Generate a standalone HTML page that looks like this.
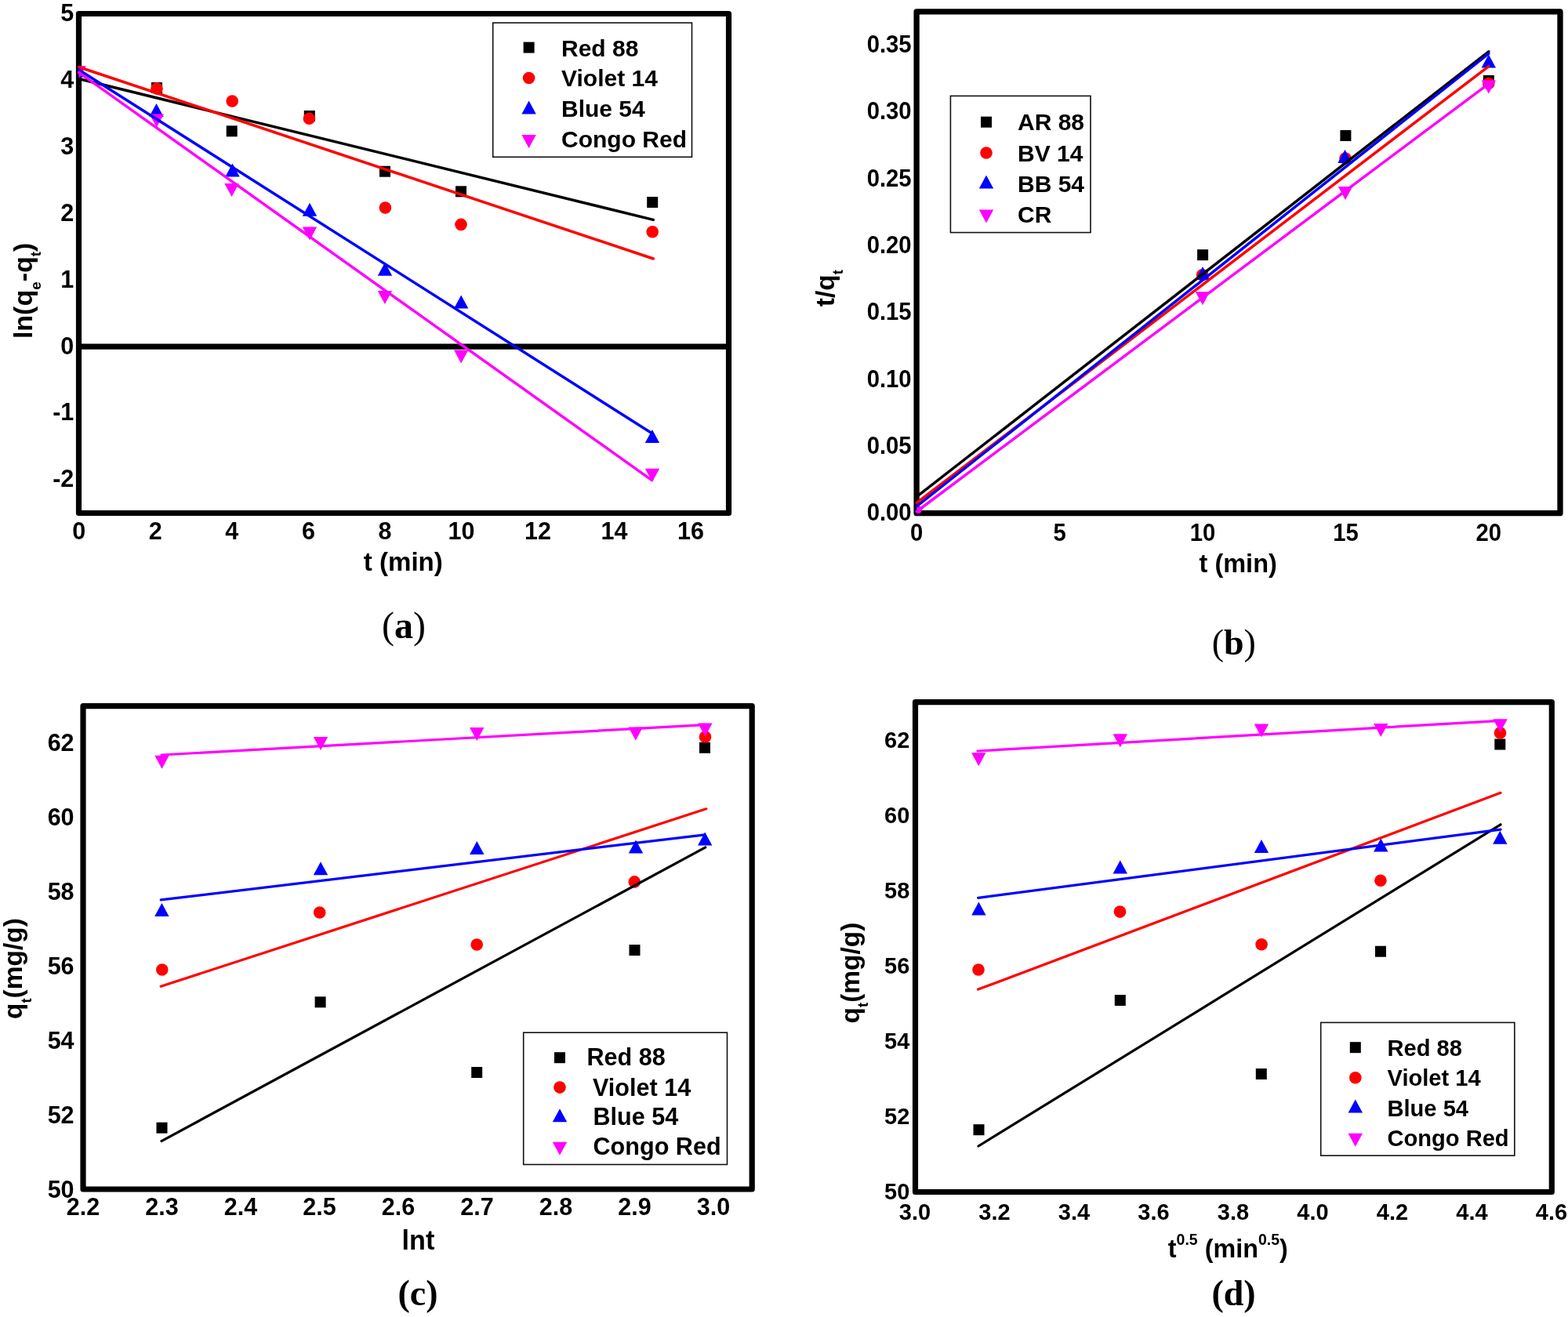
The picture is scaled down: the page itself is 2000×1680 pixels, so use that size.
<!DOCTYPE html>
<html><head><meta charset="utf-8"><title>Kinetic model plots</title>
<style>html,body{margin:0;padding:0;background:#fff;}body{width:2000px;height:1680px;overflow:hidden;}svg{display:block;}</style>
</head><body>
<svg width="2000" height="1680" viewBox="0 0 2000 1680">
<rect x="0" y="0" width="2000" height="1680" fill="#fff"/>
<clipPath id="ca"><rect x="100.5" y="17.5" width="829.0" height="637.0"/></clipPath>
<rect x="100.5" y="17.5" width="829" height="637" fill="none" stroke="#000" stroke-width="7.2" stroke-linejoin="round"/>
<line x1="100.5" y1="442.2" x2="929.5" y2="442.2" stroke="#000" stroke-width="7.2" stroke-linecap="butt"/>
<text x="94.3" y="26.85" font-family="'Liberation Sans', Arial, sans-serif" font-weight="bold" font-size="30.5" text-anchor="end">5</text>
<text x="94.3" y="111.78" font-family="'Liberation Sans', Arial, sans-serif" font-weight="bold" font-size="30.5" text-anchor="end">4</text>
<text x="94.3" y="196.71" font-family="'Liberation Sans', Arial, sans-serif" font-weight="bold" font-size="30.5" text-anchor="end">3</text>
<text x="94.3" y="281.64" font-family="'Liberation Sans', Arial, sans-serif" font-weight="bold" font-size="30.5" text-anchor="end">2</text>
<text x="94.3" y="366.57" font-family="'Liberation Sans', Arial, sans-serif" font-weight="bold" font-size="30.5" text-anchor="end">1</text>
<text x="94.3" y="451.5" font-family="'Liberation Sans', Arial, sans-serif" font-weight="bold" font-size="30.5" text-anchor="end">0</text>
<text x="94.3" y="536.43" font-family="'Liberation Sans', Arial, sans-serif" font-weight="bold" font-size="30.5" text-anchor="end">-1</text>
<text x="94.3" y="621.36" font-family="'Liberation Sans', Arial, sans-serif" font-weight="bold" font-size="30.5" text-anchor="end">-2</text>
<text x="100.8" y="687.6" font-family="'Liberation Sans', Arial, sans-serif" font-weight="bold" font-size="30.5" text-anchor="middle">0</text>
<text x="198.32" y="687.6" font-family="'Liberation Sans', Arial, sans-serif" font-weight="bold" font-size="30.5" text-anchor="middle">2</text>
<text x="295.84" y="687.6" font-family="'Liberation Sans', Arial, sans-serif" font-weight="bold" font-size="30.5" text-anchor="middle">4</text>
<text x="393.36" y="687.6" font-family="'Liberation Sans', Arial, sans-serif" font-weight="bold" font-size="30.5" text-anchor="middle">6</text>
<text x="490.88" y="687.6" font-family="'Liberation Sans', Arial, sans-serif" font-weight="bold" font-size="30.5" text-anchor="middle">8</text>
<text x="588.4" y="687.6" font-family="'Liberation Sans', Arial, sans-serif" font-weight="bold" font-size="30.5" text-anchor="middle">10</text>
<text x="685.92" y="687.6" font-family="'Liberation Sans', Arial, sans-serif" font-weight="bold" font-size="30.5" text-anchor="middle">12</text>
<text x="783.44" y="687.6" font-family="'Liberation Sans', Arial, sans-serif" font-weight="bold" font-size="30.5" text-anchor="middle">14</text>
<text x="880.96" y="687.6" font-family="'Liberation Sans', Arial, sans-serif" font-weight="bold" font-size="30.5" text-anchor="middle">16</text>
<text x="514.3" y="728" font-family="'Liberation Sans', Arial, sans-serif" font-weight="bold" font-size="33.1" text-anchor="middle">t (min)</text>
<text x="515" y="814" font-family="'Liberation Serif', 'Times New Roman', serif" font-weight="bold" font-size="48" text-anchor="middle"><tspan font-weight="normal">(</tspan>a<tspan font-weight="normal">)</tspan></text>
<text transform="translate(40.7,370.9) rotate(-90)" x="0" y="0" font-family="'Liberation Sans', Arial, sans-serif" font-weight="bold" font-size="34" text-anchor="middle"><tspan>ln(q</tspan><tspan font-size="18.8" dy="11.5">e</tspan><tspan dy="-11.5">-q</tspan><tspan font-size="18.8" dy="11.5">t</tspan><tspan dy="-11.5">)</tspan></text>
<rect x="628.7" y="29.1" width="253.8" height="171.2" fill="#fff" stroke="#111" stroke-width="1.6"/>
<rect x="667.6" y="53.6" width="14" height="14" fill="#000000"/>
<text x="716" y="71.5" font-family="'Liberation Sans', Arial, sans-serif" font-weight="bold" font-size="30" text-anchor="start">Red 88</text>
<circle cx="674.6" cy="99.5" r="7.8" fill="#ff0000"/>
<text x="716" y="110.3" font-family="'Liberation Sans', Arial, sans-serif" font-weight="bold" font-size="30" text-anchor="start">Violet 14</text>
<polygon points="674.6,128.5 683.8,145.5 665.4,145.5" fill="#0000ff"/>
<text x="716" y="149.1" font-family="'Liberation Sans', Arial, sans-serif" font-weight="bold" font-size="30" text-anchor="start">Blue 54</text>
<polygon points="665.4,172.1 683.8,172.1 674.6,189.1" fill="#ff00ff"/>
<text x="716" y="188" font-family="'Liberation Sans', Arial, sans-serif" font-weight="bold" font-size="30" text-anchor="start">Congo Red</text>
<g clip-path="url(#ca)">
<rect x="193" y="105" width="14" height="14" fill="#000000"/>
<rect x="288.7" y="160.3" width="14" height="14" fill="#000000"/>
<rect x="387.8" y="141" width="14" height="14" fill="#000000"/>
<rect x="484" y="211.7" width="14" height="14" fill="#000000"/>
<rect x="581" y="237.3" width="14" height="14" fill="#000000"/>
<rect x="825.2" y="251" width="14" height="14" fill="#000000"/>
<circle cx="200" cy="113" r="7.8" fill="#ff0000"/>
<circle cx="296.2" cy="129" r="7.8" fill="#ff0000"/>
<circle cx="394.4" cy="151.2" r="7.8" fill="#ff0000"/>
<circle cx="491.4" cy="265" r="7.8" fill="#ff0000"/>
<circle cx="588" cy="286.4" r="7.8" fill="#ff0000"/>
<circle cx="832.2" cy="295.7" r="7.8" fill="#ff0000"/>
<polygon points="100.5,81.5 109.7,98.5 91.3,98.5" fill="#0000ff"/>
<polygon points="199.5,132 208.7,149 190.3,149" fill="#0000ff"/>
<polygon points="296.5,208.5 305.7,225.5 287.3,225.5" fill="#0000ff"/>
<polygon points="395,258.8 404.2,275.8 385.8,275.8" fill="#0000ff"/>
<polygon points="491,334.8 500.2,351.8 481.8,351.8" fill="#0000ff"/>
<polygon points="588.2,376.5 597.4,393.5 579,393.5" fill="#0000ff"/>
<polygon points="832,548.1 841.2,565.1 822.8,565.1" fill="#0000ff"/>
<polygon points="91.3,84 109.7,84 100.5,101" fill="#ff00ff"/>
<polygon points="190.6,145.5 209,145.5 199.8,162.5" fill="#ff00ff"/>
<polygon points="286.3,234 304.7,234 295.5,251" fill="#ff00ff"/>
<polygon points="385.8,289.5 404.2,289.5 395,306.5" fill="#ff00ff"/>
<polygon points="481.7,371 500.1,371 490.9,388" fill="#ff00ff"/>
<polygon points="579,446.5 597.4,446.5 588.2,463.5" fill="#ff00ff"/>
<polygon points="822.8,597.7 841.2,597.7 832,614.7" fill="#ff00ff"/>
</g>
<line x1="100.5" y1="100.5" x2="833.3" y2="280.4" stroke="#000000" stroke-width="3.5" stroke-linecap="round"/>
<line x1="100.5" y1="85.5" x2="833.3" y2="330" stroke="#ff0000" stroke-width="3.5" stroke-linecap="round"/>
<line x1="100.5" y1="89" x2="832" y2="553" stroke="#0000ff" stroke-width="3.5" stroke-linecap="round"/>
<line x1="100.5" y1="92.4" x2="831.5" y2="612.6" stroke="#ff00ff" stroke-width="3.5" stroke-linecap="round"/>
<clipPath id="cb"><rect x="1169.1" y="14.9" width="820.9000000000001" height="639.8000000000001"/></clipPath>
<rect x="1169.1" y="14.9" width="820.9" height="639.8" fill="none" stroke="#000" stroke-width="7.3" stroke-linejoin="round"/>
<text transform="translate(1162.6,664.3) scale(0.96,1)" x="0" y="0" font-family="'Liberation Sans', Arial, sans-serif" font-weight="bold" font-size="30.5" text-anchor="end">0.00</text>
<text transform="translate(1162.6,578.98) scale(0.96,1)" x="0" y="0" font-family="'Liberation Sans', Arial, sans-serif" font-weight="bold" font-size="30.5" text-anchor="end">0.05</text>
<text transform="translate(1162.6,493.67) scale(0.96,1)" x="0" y="0" font-family="'Liberation Sans', Arial, sans-serif" font-weight="bold" font-size="30.5" text-anchor="end">0.10</text>
<text transform="translate(1162.6,408.35) scale(0.96,1)" x="0" y="0" font-family="'Liberation Sans', Arial, sans-serif" font-weight="bold" font-size="30.5" text-anchor="end">0.15</text>
<text transform="translate(1162.6,323.04) scale(0.96,1)" x="0" y="0" font-family="'Liberation Sans', Arial, sans-serif" font-weight="bold" font-size="30.5" text-anchor="end">0.20</text>
<text transform="translate(1162.6,237.73) scale(0.96,1)" x="0" y="0" font-family="'Liberation Sans', Arial, sans-serif" font-weight="bold" font-size="30.5" text-anchor="end">0.25</text>
<text transform="translate(1162.6,152.41) scale(0.96,1)" x="0" y="0" font-family="'Liberation Sans', Arial, sans-serif" font-weight="bold" font-size="30.5" text-anchor="end">0.30</text>
<text transform="translate(1162.6,67.09) scale(0.96,1)" x="0" y="0" font-family="'Liberation Sans', Arial, sans-serif" font-weight="bold" font-size="30.5" text-anchor="end">0.35</text>
<text transform="translate(1169.2,690.2) scale(0.96,1)" x="0" y="0" font-family="'Liberation Sans', Arial, sans-serif" font-weight="bold" font-size="30.5" text-anchor="middle">0</text>
<text transform="translate(1351.6,690.2) scale(0.96,1)" x="0" y="0" font-family="'Liberation Sans', Arial, sans-serif" font-weight="bold" font-size="30.5" text-anchor="middle">5</text>
<text transform="translate(1534,690.2) scale(0.96,1)" x="0" y="0" font-family="'Liberation Sans', Arial, sans-serif" font-weight="bold" font-size="30.5" text-anchor="middle">10</text>
<text transform="translate(1716.4,690.2) scale(0.96,1)" x="0" y="0" font-family="'Liberation Sans', Arial, sans-serif" font-weight="bold" font-size="30.5" text-anchor="middle">15</text>
<text transform="translate(1898.8,690.2) scale(0.96,1)" x="0" y="0" font-family="'Liberation Sans', Arial, sans-serif" font-weight="bold" font-size="30.5" text-anchor="middle">20</text>
<text x="1579.2" y="730.2" font-family="'Liberation Sans', Arial, sans-serif" font-weight="bold" font-size="32.5" text-anchor="middle">t (min)</text>
<text x="1573.8" y="835.2" font-family="'Liberation Serif', 'Times New Roman', serif" font-weight="bold" font-size="46" text-anchor="middle"><tspan font-weight="normal">(</tspan>b<tspan font-weight="normal">)</tspan></text>
<text transform="translate(1063.6,367.7) rotate(-90)" x="0" y="0" font-family="'Liberation Sans', Arial, sans-serif" font-weight="bold" font-size="33.5" text-anchor="middle"><tspan>t/q</tspan><tspan font-size="18.5" dy="11.5">t</tspan></text>
<rect x="1212.4" y="122.4" width="178.6" height="174.2" fill="#fff" stroke="#111" stroke-width="1.6"/>
<rect x="1251" y="148.7" width="14" height="14" fill="#000000"/>
<text x="1298" y="166.4" font-family="'Liberation Sans', Arial, sans-serif" font-weight="bold" font-size="30" text-anchor="start">AR 88</text>
<circle cx="1258" cy="195" r="7.8" fill="#ff0000"/>
<text x="1298" y="205.6" font-family="'Liberation Sans', Arial, sans-serif" font-weight="bold" font-size="30" text-anchor="start">BV 14</text>
<polygon points="1258,223.5 1267.2,240.5 1248.8,240.5" fill="#0000ff"/>
<text x="1298" y="245" font-family="'Liberation Sans', Arial, sans-serif" font-weight="bold" font-size="30" text-anchor="start">BB 54</text>
<polygon points="1248.8,267.5 1267.2,267.5 1258,284.5" fill="#ff00ff"/>
<text x="1298" y="284" font-family="'Liberation Sans', Arial, sans-serif" font-weight="bold" font-size="30" text-anchor="start">CR</text>
<g clip-path="url(#cb)">
<rect x="1527.1" y="318.2" width="14" height="14" fill="#000000"/>
<rect x="1709.4" y="166" width="14" height="14" fill="#000000"/>
<rect x="1891.8" y="96" width="14" height="14" fill="#000000"/>
<circle cx="1533.7" cy="350.7" r="7.8" fill="#ff0000"/>
<circle cx="1716" cy="202.1" r="7.8" fill="#ff0000"/>
<circle cx="1898.8" cy="106.5" r="7.8" fill="#ff0000"/>
<polygon points="1169.2,646.2 1178.4,663.2 1160,663.2" fill="#0000ff"/>
<polygon points="1534,339.9 1543.2,356.9 1524.8,356.9" fill="#0000ff"/>
<polygon points="1715.5,191 1724.7,208 1706.3,208" fill="#0000ff"/>
<polygon points="1898.8,69.5 1908,86.5 1889.6,86.5" fill="#0000ff"/>
<polygon points="1160,646.2 1178.4,646.2 1169.2,663.2" fill="#ff00ff"/>
<polygon points="1524.8,372.2 1543.2,372.2 1534,389.2" fill="#ff00ff"/>
<polygon points="1706.8,237.9 1725.2,237.9 1716,254.9" fill="#ff00ff"/>
<polygon points="1889.6,102.5 1908,102.5 1898.8,119.5" fill="#ff00ff"/>
</g>
<line x1="1169.2" y1="633.6" x2="1898.8" y2="65.9" stroke="#000000" stroke-width="3.5" stroke-linecap="round"/>
<line x1="1169.2" y1="641.5" x2="1898.8" y2="84.6" stroke="#ff0000" stroke-width="3.5" stroke-linecap="round"/>
<line x1="1169.2" y1="646" x2="1898.8" y2="68.5" stroke="#0000ff" stroke-width="3.5" stroke-linecap="round"/>
<line x1="1169.2" y1="652.5" x2="1898.8" y2="106.8" stroke="#ff00ff" stroke-width="3.5" stroke-linecap="round"/>
<clipPath id="cc"><rect x="106.0" y="900.7" width="853.2" height="616.3"/></clipPath>
<rect x="106" y="900.7" width="853.2" height="616.3" fill="none" stroke="#000" stroke-width="7.2" stroke-linejoin="round"/>
<text x="94.6" y="1527.5" font-family="'Liberation Sans', Arial, sans-serif" font-weight="bold" font-size="30.5" text-anchor="end">50</text>
<text x="94.6" y="1432.5" font-family="'Liberation Sans', Arial, sans-serif" font-weight="bold" font-size="30.5" text-anchor="end">52</text>
<text x="94.6" y="1337.5" font-family="'Liberation Sans', Arial, sans-serif" font-weight="bold" font-size="30.5" text-anchor="end">54</text>
<text x="94.6" y="1242.5" font-family="'Liberation Sans', Arial, sans-serif" font-weight="bold" font-size="30.5" text-anchor="end">56</text>
<text x="94.6" y="1147.5" font-family="'Liberation Sans', Arial, sans-serif" font-weight="bold" font-size="30.5" text-anchor="end">58</text>
<text x="94.6" y="1052.5" font-family="'Liberation Sans', Arial, sans-serif" font-weight="bold" font-size="30.5" text-anchor="end">60</text>
<text x="94.6" y="957.5" font-family="'Liberation Sans', Arial, sans-serif" font-weight="bold" font-size="30.5" text-anchor="end">62</text>
<text x="106" y="1549.6" font-family="'Liberation Sans', Arial, sans-serif" font-weight="bold" font-size="30.5" text-anchor="middle">2.2</text>
<text x="206.5" y="1549.6" font-family="'Liberation Sans', Arial, sans-serif" font-weight="bold" font-size="30.5" text-anchor="middle">2.3</text>
<text x="307" y="1549.6" font-family="'Liberation Sans', Arial, sans-serif" font-weight="bold" font-size="30.5" text-anchor="middle">2.4</text>
<text x="407.5" y="1549.6" font-family="'Liberation Sans', Arial, sans-serif" font-weight="bold" font-size="30.5" text-anchor="middle">2.5</text>
<text x="508" y="1549.6" font-family="'Liberation Sans', Arial, sans-serif" font-weight="bold" font-size="30.5" text-anchor="middle">2.6</text>
<text x="608.5" y="1549.6" font-family="'Liberation Sans', Arial, sans-serif" font-weight="bold" font-size="30.5" text-anchor="middle">2.7</text>
<text x="709" y="1549.6" font-family="'Liberation Sans', Arial, sans-serif" font-weight="bold" font-size="30.5" text-anchor="middle">2.8</text>
<text x="809.5" y="1549.6" font-family="'Liberation Sans', Arial, sans-serif" font-weight="bold" font-size="30.5" text-anchor="middle">2.9</text>
<text x="910" y="1549.6" font-family="'Liberation Sans', Arial, sans-serif" font-weight="bold" font-size="30.5" text-anchor="middle">3.0</text>
<text x="533.5" y="1594" font-family="'Liberation Sans', Arial, sans-serif" font-weight="bold" font-size="34.2" text-anchor="middle">lnt</text>
<text x="533" y="1664.5" font-family="'Liberation Serif', 'Times New Roman', serif" font-weight="bold" font-size="46" text-anchor="middle">(c)</text>
<text transform="translate(28.4,1235.6) rotate(-90)" x="0" y="0" font-family="'Liberation Sans', Arial, sans-serif" font-weight="bold" font-size="33.5" text-anchor="middle"><tspan>q</tspan><tspan font-size="18.5" dy="11.5">t</tspan><tspan dy="-11.5">(mg/g)</tspan></text>
<rect x="667.7" y="1317.2" width="259.8" height="168.3" fill="#fff" stroke="#111" stroke-width="1.6"/>
<rect x="707" y="1342.2" width="14" height="14" fill="#000000"/>
<text x="748.5" y="1359.2" font-family="'Liberation Sans', Arial, sans-serif" font-weight="bold" font-size="30.6" text-anchor="start">Red 88</text>
<circle cx="714" cy="1387.1" r="7.8" fill="#ff0000"/>
<text x="756" y="1397.5" font-family="'Liberation Sans', Arial, sans-serif" font-weight="bold" font-size="30.6" text-anchor="start">Violet 14</text>
<polygon points="714,1414.2 723.2,1431.2 704.8,1431.2" fill="#0000ff"/>
<text x="756.5" y="1435" font-family="'Liberation Sans', Arial, sans-serif" font-weight="bold" font-size="30.6" text-anchor="start">Blue 54</text>
<polygon points="704.8,1456.7 723.2,1456.7 714,1473.7" fill="#ff00ff"/>
<text x="756.5" y="1473.2" font-family="'Liberation Sans', Arial, sans-serif" font-weight="bold" font-size="30.6" text-anchor="start">Congo Red</text>
<g clip-path="url(#cc)">
<rect x="199.5" y="1431.7" width="14" height="14" fill="#000000"/>
<rect x="401.6" y="1271.3" width="14" height="14" fill="#000000"/>
<rect x="601.2" y="1361" width="14" height="14" fill="#000000"/>
<rect x="802.5" y="1205" width="14" height="14" fill="#000000"/>
<rect x="892" y="946.8" width="14" height="14" fill="#000000"/>
<circle cx="206.8" cy="1237" r="7.8" fill="#ff0000"/>
<circle cx="407.7" cy="1164" r="7.8" fill="#ff0000"/>
<circle cx="608.2" cy="1205" r="7.8" fill="#ff0000"/>
<circle cx="809.3" cy="1124.9" r="7.8" fill="#ff0000"/>
<circle cx="899.5" cy="940" r="7.8" fill="#ff0000"/>
<polygon points="206.4,1152.1 215.6,1169.1 197.2,1169.1" fill="#0000ff"/>
<polygon points="409,1099.2 418.2,1116.2 399.8,1116.2" fill="#0000ff"/>
<polygon points="608.3,1073 617.5,1090 599.1,1090" fill="#0000ff"/>
<polygon points="811,1071.5 820.2,1088.5 801.8,1088.5" fill="#0000ff"/>
<polygon points="899.2,1061.5 908.4,1078.5 890,1078.5" fill="#0000ff"/>
<polygon points="197.3,963.7 215.7,963.7 206.5,980.7" fill="#ff00ff"/>
<polygon points="399.8,940.1 418.2,940.1 409,957.1" fill="#ff00ff"/>
<polygon points="599.1,928.1 617.5,928.1 608.3,945.1" fill="#ff00ff"/>
<polygon points="801.6,927.5 820,927.5 810.8,944.5" fill="#ff00ff"/>
<polygon points="890.2,922.5 908.6,922.5 899.4,939.5" fill="#ff00ff"/>
</g>
<line x1="206" y1="963" x2="899" y2="924.6" stroke="#ff00ff" stroke-width="3.2" stroke-linecap="round"/>
<line x1="205.2" y1="1258.3" x2="900.7" y2="1031.8" stroke="#ff0000" stroke-width="3.2" stroke-linecap="round"/>
<line x1="205.2" y1="1147.9" x2="899" y2="1064.8" stroke="#0000ff" stroke-width="3.2" stroke-linecap="round"/>
<line x1="206" y1="1455.6" x2="899.8" y2="1080.9" stroke="#000000" stroke-width="3.2" stroke-linecap="round"/>
<clipPath id="cd"><rect x="1167.5" y="895.7" width="811.8" height="624.8"/></clipPath>
<rect x="1167.5" y="895.7" width="811.8" height="624.8" fill="none" stroke="#000" stroke-width="7.2" stroke-linejoin="round"/>
<text transform="translate(1160.3,1529.8) scale(0.96,1)" x="0" y="0" font-family="'Liberation Sans', Arial, sans-serif" font-weight="bold" font-size="30.2" text-anchor="end">50</text>
<text transform="translate(1160.3,1433.8) scale(0.96,1)" x="0" y="0" font-family="'Liberation Sans', Arial, sans-serif" font-weight="bold" font-size="30.2" text-anchor="end">52</text>
<text transform="translate(1160.3,1337.8) scale(0.96,1)" x="0" y="0" font-family="'Liberation Sans', Arial, sans-serif" font-weight="bold" font-size="30.2" text-anchor="end">54</text>
<text transform="translate(1160.3,1241.8) scale(0.96,1)" x="0" y="0" font-family="'Liberation Sans', Arial, sans-serif" font-weight="bold" font-size="30.2" text-anchor="end">56</text>
<text transform="translate(1160.3,1145.8) scale(0.96,1)" x="0" y="0" font-family="'Liberation Sans', Arial, sans-serif" font-weight="bold" font-size="30.2" text-anchor="end">58</text>
<text transform="translate(1160.3,1049.8) scale(0.96,1)" x="0" y="0" font-family="'Liberation Sans', Arial, sans-serif" font-weight="bold" font-size="30.2" text-anchor="end">60</text>
<text transform="translate(1160.3,953.8) scale(0.96,1)" x="0" y="0" font-family="'Liberation Sans', Arial, sans-serif" font-weight="bold" font-size="30.2" text-anchor="end">62</text>
<text transform="translate(1167,1556.2) scale(0.96,1)" x="0" y="0" font-family="'Liberation Sans', Arial, sans-serif" font-weight="bold" font-size="30.2" text-anchor="middle">3.0</text>
<text transform="translate(1268.5,1556.2) scale(0.96,1)" x="0" y="0" font-family="'Liberation Sans', Arial, sans-serif" font-weight="bold" font-size="30.2" text-anchor="middle">3.2</text>
<text transform="translate(1370,1556.2) scale(0.96,1)" x="0" y="0" font-family="'Liberation Sans', Arial, sans-serif" font-weight="bold" font-size="30.2" text-anchor="middle">3.4</text>
<text transform="translate(1471.5,1556.2) scale(0.96,1)" x="0" y="0" font-family="'Liberation Sans', Arial, sans-serif" font-weight="bold" font-size="30.2" text-anchor="middle">3.6</text>
<text transform="translate(1573,1556.2) scale(0.96,1)" x="0" y="0" font-family="'Liberation Sans', Arial, sans-serif" font-weight="bold" font-size="30.2" text-anchor="middle">3.8</text>
<text transform="translate(1674.5,1556.2) scale(0.96,1)" x="0" y="0" font-family="'Liberation Sans', Arial, sans-serif" font-weight="bold" font-size="30.2" text-anchor="middle">4.0</text>
<text transform="translate(1776,1556.2) scale(0.96,1)" x="0" y="0" font-family="'Liberation Sans', Arial, sans-serif" font-weight="bold" font-size="30.2" text-anchor="middle">4.2</text>
<text transform="translate(1877.5,1556.2) scale(0.96,1)" x="0" y="0" font-family="'Liberation Sans', Arial, sans-serif" font-weight="bold" font-size="30.2" text-anchor="middle">4.4</text>
<text transform="translate(1979,1556.2) scale(0.96,1)" x="0" y="0" font-family="'Liberation Sans', Arial, sans-serif" font-weight="bold" font-size="30.2" text-anchor="middle">4.6</text>
<text x="1566.3" y="1604" font-family="'Liberation Sans', Arial, sans-serif" font-weight="bold" font-size="32.3" text-anchor="middle">t<tspan font-size="19.5" dy="-16">0.5</tspan><tspan dy="16"> (min</tspan><tspan font-size="19.5" dy="-16">0.5</tspan><tspan dy="16">)</tspan></text>
<text x="1573.5" y="1665" font-family="'Liberation Serif', 'Times New Roman', serif" font-weight="bold" font-size="46" text-anchor="middle">(d)</text>
<text transform="translate(1095.9,1241) rotate(-90)" x="0" y="0" font-family="'Liberation Sans', Arial, sans-serif" font-weight="bold" font-size="33.5" text-anchor="middle"><tspan>q</tspan><tspan font-size="18.5" dy="11.5">t</tspan><tspan dy="-11.5">(mg/g)</tspan></text>
<rect x="1684.7" y="1304.4" width="247.1" height="169.7" fill="#fff" stroke="#111" stroke-width="1.6"/>
<rect x="1721.8" y="1329.2" width="14" height="14" fill="#000000"/>
<text x="1769.5" y="1346.7" font-family="'Liberation Sans', Arial, sans-serif" font-weight="bold" font-size="29.1" text-anchor="start">Red 88</text>
<circle cx="1728.8" cy="1374.7" r="7.8" fill="#ff0000"/>
<text x="1769.5" y="1385.2" font-family="'Liberation Sans', Arial, sans-serif" font-weight="bold" font-size="29.1" text-anchor="start">Violet 14</text>
<polygon points="1728.8,1402.5 1738,1419.5 1719.6,1419.5" fill="#0000ff"/>
<text x="1769.5" y="1423.7" font-family="'Liberation Sans', Arial, sans-serif" font-weight="bold" font-size="29.1" text-anchor="start">Blue 54</text>
<polygon points="1719.6,1445.8 1738,1445.8 1728.8,1462.8" fill="#ff00ff"/>
<text x="1769.5" y="1461.5" font-family="'Liberation Sans', Arial, sans-serif" font-weight="bold" font-size="29.1" text-anchor="start">Congo Red</text>
<g clip-path="url(#cd)">
<rect x="1241.5" y="1434.2" width="14" height="14" fill="#000000"/>
<rect x="1421.8" y="1269" width="14" height="14" fill="#000000"/>
<rect x="1601.8" y="1363" width="14" height="14" fill="#000000"/>
<rect x="1754" y="1206.7" width="14" height="14" fill="#000000"/>
<rect x="1906.3" y="942.5" width="14" height="14" fill="#000000"/>
<circle cx="1248" cy="1237" r="7.8" fill="#ff0000"/>
<circle cx="1428.5" cy="1163.1" r="7.8" fill="#ff0000"/>
<circle cx="1609.1" cy="1204.7" r="7.8" fill="#ff0000"/>
<circle cx="1760.9" cy="1123.3" r="7.8" fill="#ff0000"/>
<circle cx="1913.5" cy="934.9" r="7.8" fill="#ff0000"/>
<polygon points="1248.4,1150.5 1257.6,1167.5 1239.2,1167.5" fill="#0000ff"/>
<polygon points="1428.8,1097.5 1438,1114.5 1419.6,1114.5" fill="#0000ff"/>
<polygon points="1609,1071 1618.2,1088 1599.8,1088" fill="#0000ff"/>
<polygon points="1761.3,1069.5 1770.5,1086.5 1752.1,1086.5" fill="#0000ff"/>
<polygon points="1913.3,1059.7 1922.5,1076.7 1904.1,1076.7" fill="#0000ff"/>
<polygon points="1239.1,960.2 1257.5,960.2 1248.3,977.2" fill="#ff00ff"/>
<polygon points="1419.6,936.2 1438,936.2 1428.8,953.2" fill="#ff00ff"/>
<polygon points="1599.8,923.6 1618.2,923.6 1609,940.6" fill="#ff00ff"/>
<polygon points="1752.1,922.9 1770.5,922.9 1761.3,939.9" fill="#ff00ff"/>
<polygon points="1904.4,917.3 1922.8,917.3 1913.6,934.3" fill="#ff00ff"/>
</g>
<line x1="1247" y1="958" x2="1914" y2="919.3" stroke="#ff00ff" stroke-width="3.2" stroke-linecap="round"/>
<line x1="1247.6" y1="1262.1" x2="1914" y2="1011.3" stroke="#ff0000" stroke-width="3.2" stroke-linecap="round"/>
<line x1="1248" y1="1462" x2="1914" y2="1051.8" stroke="#000000" stroke-width="3.2" stroke-linecap="round"/>
<line x1="1247.6" y1="1145.3" x2="1914" y2="1058.2" stroke="#0000ff" stroke-width="3.2" stroke-linecap="round"/>
</svg>
</body></html>
